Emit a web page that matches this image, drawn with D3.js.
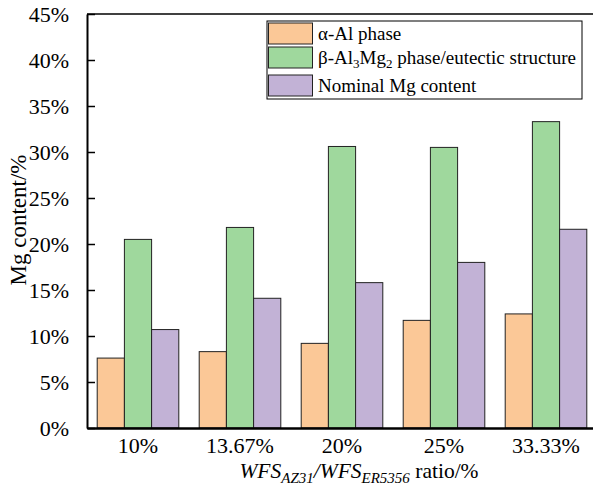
<!DOCTYPE html>
<html><head><meta charset="utf-8">
<script src="https://cdn.jsdelivr.net/npm/d3@7"></script>
<style>body{margin:0;background:#fff}svg text{font-family:"Liberation Serif","Times New Roman",Tinos,"DejaVu Serif",serif !important}</style>
</head><body><svg id="c" width="593" height="486"></svg>
<script>
const categories = ["10%", "13.67%", "20%", "25%", "33.33%"];
const seriesNames = ["α-Al phase", "β-Al3Mg2 phase/eutectic structure", "Nominal Mg content"];
const alphaAl = [7.6, 8.3, 9.2, 11.7, 12.4];
const betaAl3Mg2 = [20.5, 21.8, 30.6, 30.5, 33.3];
const nominalMg = [10.7, 14.1, 15.8, 18.0, 21.6];
const yTicks = [0, 5, 10, 15, 20, 25, 30, 35, 40, 45];
const colors = ["#FBC897", "#9FD89D", "#C2B2D6"];

const series = [alphaAl, betaAl3Mg2, nominalMg];
const svg = d3.select("#c");
const L = 87, T = 14, B = 428, R = 597;

const x = d3.scaleBand().domain(categories).range([L, R]).paddingInner(0.2).paddingOuter(0.1);
const xs = d3.scaleBand().domain(d3.range(3)).range([0, x.bandwidth()]);
const y = d3.scaleLinear().domain([0, 45]).range([B, T]);

categories.forEach((c, i) => {
  series.forEach((s, j) => {
    svg.append("rect")
      .attr("x", x(c) + xs(j)).attr("y", y(s[i]))
      .attr("width", xs.bandwidth()).attr("height", y(0) - y(s[i]))
      .attr("fill", colors[j]).attr("stroke", "#222").attr("stroke-width", 1);
  });
});

svg.append("line").attr("x1", L).attr("x2", R).attr("y1", T).attr("y2", T).attr("stroke", "#000").attr("stroke-width", 1.5);

const ya = svg.append("g").attr("transform", `translate(${L},0)`)
  .call(d3.axisLeft(y).tickValues(yTicks).tickFormat(d => d + "%").tickSizeInner(-8).tickSizeOuter(0).tickPadding(18));
ya.attr("font-family", null);
ya.select(".domain").attr("stroke", "#000").attr("stroke-width", 2);
ya.selectAll(".tick line").attr("stroke", "#000").attr("stroke-width", 1.5);
ya.selectAll("text").attr("font-size", 22).attr("fill", "#000");

const xa = svg.append("g").attr("transform", `translate(0,${B})`)
  .call(d3.axisBottom(x).tickSize(0).tickPadding(9.5));
xa.attr("font-family", null);
xa.select(".domain").attr("stroke", "#000").attr("stroke-width", 2.5);
xa.selectAll("text").attr("font-size", 22).attr("fill", "#000");

svg.append("text").attr("transform", "translate(26,220) rotate(-90)")
  .attr("text-anchor", "middle").attr("font-size", 23).text("Mg content/%");

const xl = svg.append("text").attr("x", 359).attr("y", 477.5).attr("text-anchor", "middle").attr("font-size", 21.5);
xl.append("tspan").attr("font-style", "italic").text("WFS");
xl.append("tspan").attr("font-style", "italic").attr("font-size", 15).attr("dy", 5).text("AZ31");
xl.append("tspan").attr("font-style", "italic").attr("dy", -5).text("/WFS");
xl.append("tspan").attr("font-style", "italic").attr("font-size", 15).attr("dy", 5).text("ER5356");
xl.append("tspan").attr("dy", -5).text(" ratio/%");

const lg = svg.append("g");
lg.append("rect").attr("x", 267).attr("y", 21).attr("width", 315).attr("height", 78)
  .attr("fill", "#fff").attr("stroke", "#000").attr("stroke-width", 1);
const rowsY = [23, 47, 75];
seriesNames.forEach((n, j) => {
  lg.append("rect").attr("x", 268.5).attr("y", rowsY[j]).attr("width", 44).attr("height", 21)
    .attr("fill", colors[j]).attr("stroke", "#222").attr("stroke-width", 1);
  const t = lg.append("text").attr("x", 318).attr("y", rowsY[j] + 17).attr("font-size", 19);
  if (j === 1) {
    t.append("tspan").text("β-Al");
    t.append("tspan").attr("font-size", 13).attr("dy", 4).text("3");
    t.append("tspan").attr("dy", -4).text("Mg");
    t.append("tspan").attr("font-size", 13).attr("dy", 4).text("2");
    t.append("tspan").attr("dy", -4).text(" phase/eutectic structure");
  } else t.text(n);
});
</script></body></html>
